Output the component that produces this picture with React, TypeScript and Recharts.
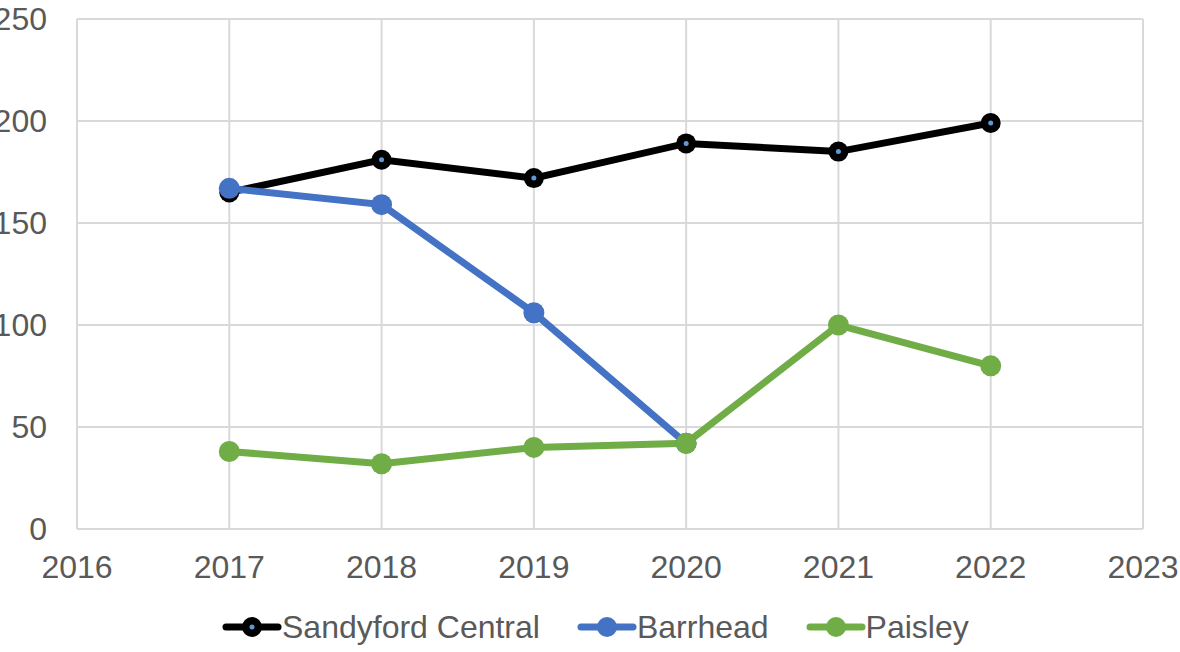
import React from "react";
import { LineChart, Line, XAxis, YAxis, CartesianGrid } from "recharts";

const years = [2017, 2018, 2019, 2020, 2021, 2022];
const sandyford = [165, 181, 172, 189, 185, 199];
const barrhead: (number | null)[] = [167, 159, 106, 42, null, null];
const paisley = [38, 32, 40, 42, 100, 80];

const xTicks = [2016, 2017, 2018, 2019, 2020, 2021, 2022, 2023];
const yTicks = [0, 50, 100, 150, 200, 250];

const seriesNames = ["Sandyford Central", "Barrhead", "Paisley"];
const seriesColors = ["#000000", "#4472C4", "#70AD47"];

const data = years.map((y, i) => ({
  year: y,
  sandyford: sandyford[i],
  barrhead: barrhead[i],
  paisley: paisley[i],
}));

const FONT = "'Liberation Sans', Arial, sans-serif";
const TEXT = "#595959";
const GRID = "#d9d9d9";

const BlackDot = (props: any) => {
  const { cx, cy, index } = props;
  if (cx == null || cy == null) return <g key={`bd-${index}`} />;
  return (
    <g key={`bd-${index}`}>
      <circle cx={cx} cy={cy} r={10} fill="#000" />
      <circle cx={cx} cy={cy} r={2.5} fill="#5b9bd5" />
    </g>
  );
};

const LegendIcon = ({ color, black }: { color: string; black: boolean }) => (
  <svg width={60} height={24} style={{ display: "block" }}>
    <line x1={4} y1={12} x2={56} y2={12} stroke={color} strokeWidth={7} strokeLinecap="round" />
    <circle cx={30} cy={12} r={10} fill={color} />
    {black && <circle cx={30} cy={12} r={2.5} fill="#5b9bd5" />}
  </svg>
);

export default function App() {
  return (
    <div
      style={{
        position: "absolute",
        left: 0,
        top: 0,
        width: 1180,
        height: 652,
        background: "#fff",
        fontFamily: FONT,
        overflow: "hidden",
      }}
    >
      <LineChart
        width={1180}
        height={652}
        data={data}
        margin={{ top: 19, right: 37, left: 0, bottom: 63 }}
      >
        <CartesianGrid stroke={GRID} strokeWidth={2} />
        <XAxis
          dataKey="year"
          type="number"
          domain={[2016, 2023]}
          ticks={xTicks}
          axisLine={false}
          tickLine={false}
          tickSize={0}
          tickMargin={26}
          height={60}
          interval={0}
          tick={{ fill: TEXT, fontSize: 32, fontFamily: FONT }}
        />
        <YAxis
          domain={[0, 250]}
          ticks={yTicks}
          axisLine={false}
          tickLine={false}
          tickSize={0}
          tickMargin={30}
          width={77}
          interval={0}
          tick={{ fill: TEXT, fontSize: 32, fontFamily: FONT }}
        />
        <Line
          dataKey="sandyford"
          stroke={seriesColors[0]}
          strokeWidth={7}
          dot={BlackDot}
          activeDot={false}
          isAnimationActive={false}
        />
        <Line
          dataKey="barrhead"
          stroke={seriesColors[1]}
          strokeWidth={7}
          dot={{ r: 10.5, fill: seriesColors[1], stroke: "none" }}
          activeDot={false}
          isAnimationActive={false}
        />
        <Line
          dataKey="paisley"
          stroke={seriesColors[2]}
          strokeWidth={7}
          dot={{ r: 10.5, fill: seriesColors[2], stroke: "none" }}
          activeDot={false}
          isAnimationActive={false}
        />
      </LineChart>
      <div
        style={{
          position: "absolute",
          left: 222,
          top: 609,
          height: 36,
          display: "flex",
          alignItems: "center",
          gap: 37,
        }}
      >
        {seriesNames.map((name, i) => (
          <div key={name} style={{ display: "flex", alignItems: "center" }}>
            <LegendIcon color={seriesColors[i]} black={i === 0} />
            <span style={{ fontSize: 32, color: TEXT, marginLeft: 0, lineHeight: "36px" }}>{name}</span>
          </div>
        ))}
      </div>
    </div>
  );
}
